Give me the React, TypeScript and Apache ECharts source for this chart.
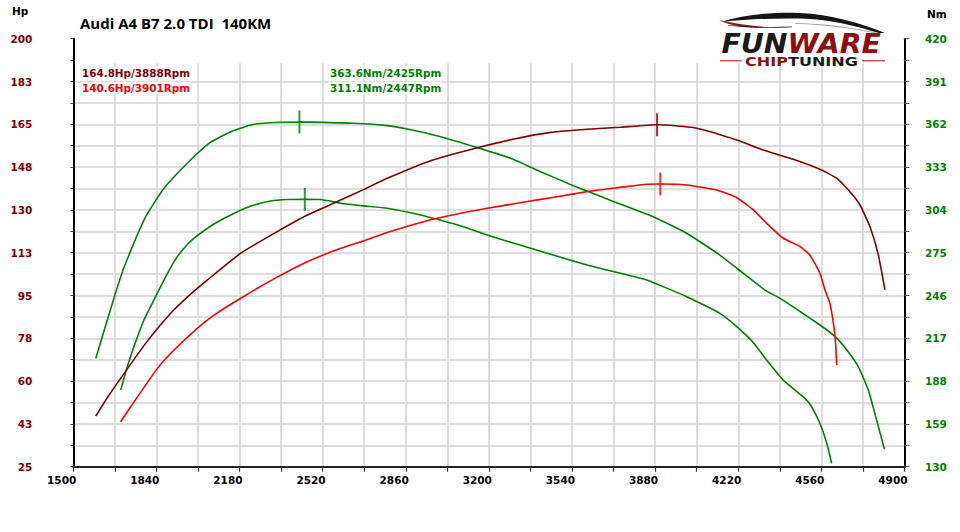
import React, { useEffect, useRef } from 'react';
import * as echarts from 'echarts';

// ---- axis origins (values are offset so ticks start at the axis minimum) ----
const X0 = 1500;
const HP0 = 25;
const NM0 = 130;

// ---- tick labels ----
const xTickLabels = ['1500', '1840', '2180', '2520', '2860', '3200', '3540', '3880', '4220', '4560', '4900'];
const hpTickLabels = ['25', '43', '60', '78', '95', '113', '130', '148', '165', '183', '200'];
const nmTickLabels = ['130', '159', '188', '217', '246', '275', '304', '333', '362', '391', '420'];

// ---- tuned power (Hp) ----
const rpmPowerTuned = [1592, 1639, 1721, 1789, 1857, 1912, 1980, 2048, 2185, 2334, 2457, 2580, 2689, 2784, 2962, 3153, 3303, 3453, 3602, 3736, 3888, 3941, 4050, 4214, 4322, 4445, 4554, 4623, 4677, 4718, 4759, 4793, 4820];
const hpPowerTuned = [45.7, 53.2, 65, 74.5, 83, 89.2, 95.6, 101.3, 112.3, 121.1, 127.9, 133.4, 138.4, 142.9, 150.1, 155.4, 159, 161.7, 163, 163.8, 164.8, 164.6, 163.4, 158.6, 154.5, 150.7, 146.6, 142.9, 137.4, 132, 123.1, 111.6, 97.3];

// ---- stock power (Hp) ----
const rpmPowerStock = [1694, 1735, 1844, 1912, 2007, 2076, 2185, 2321, 2457, 2594, 2689, 2784, 2975, 3193, 3357, 3466, 3616, 3736, 3834, 3901, 4009, 4132, 4214, 4282, 4336, 4404, 4473, 4513, 4554, 4575, 4595, 4616, 4623];
const hpPowerStock = [43.4, 49.5, 65.2, 72.7, 81.6, 87, 93.9, 101.8, 108.8, 114.3, 117.4, 120.8, 126.3, 130.7, 133.4, 135.2, 137.7, 139.2, 140.4, 140.6, 140.2, 138.1, 135, 130, 124.5, 118.4, 115, 111.6, 104.1, 97.2, 91.8, 78.2, 66.6];

// ---- tuned torque (Nm) ----
const rpmTorqueTuned = [1592, 1639, 1680, 1714, 1796, 1871, 1966, 2055, 2144, 2239, 2348, 2425, 2518, 2648, 2784, 2866, 3003, 3153, 3289, 3412, 3548, 3712, 3872, 4009, 4145, 4241, 4329, 4391, 4554, 4616, 4664, 4711, 4752, 4786, 4818];
const nmTorqueTuned = [203.4, 229.4, 251.5, 267.8, 299.4, 318.6, 335.6, 349.1, 357, 362, 363.4, 363.6, 363.3, 362.7, 361.1, 358.8, 353.6, 346.2, 339, 329.9, 320.2, 309.6, 299.4, 288.2, 273.4, 261, 249.7, 244.1, 226, 218.1, 209.1, 197.8, 182, 161.6, 141.8];

// ---- stock torque (Nm) ----
const rpmTorqueStock = [1694, 1721, 1748, 1789, 1830, 1871, 1912, 1950, 1994, 2069, 2144, 2219, 2307, 2375, 2447, 2512, 2594, 2689, 2784, 2921, 2989, 3085, 3193, 3303, 3439, 3602, 3712, 3845, 4009, 4145, 4214, 4282, 4336, 4404, 4493, 4520, 4554, 4582, 4602];
const nmTorqueStock = [182, 197.8, 211.3, 229.4, 243, 256.5, 269, 277.5, 284.8, 293.8, 300.6, 306.2, 310, 311, 311.1, 311, 308.5, 306.7, 305.1, 300.6, 297.6, 293.1, 287, 281.4, 274.6, 266.7, 262.1, 256.5, 245.2, 233.9, 224.9, 214, 202.3, 188.7, 176.3, 170.6, 159.4, 145.9, 132.3];

// ---- peaks ----
const peakHpTuned = 164.8; const peakHpTunedRpm = 3888;
const peakHpStock = 140.6; const peakHpStockRpm = 3901;
const peakNmTuned = 363.6; const peakNmTunedRpm = 2425;
const peakNmStock = 311.1; const peakNmStockRpm = 2447;

const title = 'Audi A4 B7 2.0 TDI  140KM';

const C_DARK = '#800000';
const C_RED = '#ff0000';
const C_GREEN = '#008000';
const LABEL_FONT = '"DejaVu Sans", Verdana, sans-serif';

const carBlackD = 'M 721 22 C 745 14 775 12 800 13 C 830 14 860 23 885 33 L 879 33 C 855 26 830 19 800 18.5 C 775 18 750 19 721 22 Z';
const carRedD = 'M 719 20 C 733 23 748 26 768 27 C 750 29 733 27 719 20 Z';
const carLineD = 'M 728 25 C 750 27 770 27.5 792 26.5 L 792 27.3 C 770 28.3 750 28 728 25.6 Z';
const carWinD = 'M 795 23 C 830 24 855 28 880 33.5 L 879 34 C 855 29 830 25 795 23.8 Z';

echarts.graphic.registerShape('funwareCarBlack', echarts.graphic.extendPath(carBlackD, {}));
echarts.graphic.registerShape('funwareCarRed', echarts.graphic.extendPath(carRedD, {}));
echarts.graphic.registerShape('funwareCarLine', echarts.graphic.extendPath(carLineD, {}));
echarts.graphic.registerShape('funwareCarWin', echarts.graphic.extendPath(carWinD, {}));

function pairs(xs: number[], ys: number[], y0: number) {
  return xs.map((x, i) => [x - X0, ys[i] - y0]);
}

function buildOption(): any {
  const lineBase = { type: 'line', showSymbol: false, symbol: 'none', smooth: 0.15, silent: true };
  const markerBase = { type: 'scatter', symbol: 'rect', symbolSize: [2, 23], silent: true, z: 4 };

  const textStyle = (fill: string) => ({
    fill,
    font: `bold 10.4px ${LABEL_FONT}`,
    align: 'left',
    verticalAlign: 'middle',
    backgroundColor: '#fff',
    padding: [1, 1],
  });

  return {
    animation: false,
    backgroundColor: '#ffffff',
    grid: { left: 73.3, right: 55.5, top: 38.7, bottom: 65.3, containLabel: false },
    xAxis: {
      type: 'value',
      min: 0,
      max: 3400,
      interval: 170,
      axisLine: { show: true, onZero: false, lineStyle: { color: '#222', width: 2 } },
      axisTick: { show: true, inside: false, length: 5, lineStyle: { color: '#333', width: 1.2 } },
      splitLine: { show: true, lineStyle: { color: '#d3d3d3', width: 1.5 } },
      axisLabel: {
        margin: 8,
        align: 'right',
        padding: [0, -3, 0, 0],
        color: '#000',
        fontFamily: LABEL_FONT,
        fontWeight: 'bold',
        fontSize: 10.5,
        formatter: (v: number) => {
          const k = Math.round(v / 170);
          return k % 2 === 0 ? xTickLabels[k / 2] : '';
        },
      },
    },
    yAxis: [
      {
        type: 'value',
        position: 'left',
        min: 0,
        max: 175,
        interval: 8.75,
        axisLine: { show: true, onZero: false, lineStyle: { color: '#000', width: 2 } },
        axisTick: { show: true, inside: false, length: 3, lineStyle: { color: '#555', width: 1 } },
        splitLine: { show: true, lineStyle: { color: '#d3d3d3', width: 1.5 } },
        axisLabel: {
          margin: 41,
          color: C_DARK,
          fontFamily: LABEL_FONT,
          fontWeight: 'bold',
          fontSize: 10.5,
          formatter: (v: number) => {
            const k = Math.round(v / 8.75);
            return k % 2 === 0 ? hpTickLabels[k / 2] : '';
          },
        },
      },
      {
        type: 'value',
        position: 'right',
        min: 0,
        max: 290,
        interval: 14.5,
        axisLine: { show: true, onZero: false, lineStyle: { color: '#000', width: 2 } },
        axisTick: { show: true, inside: false, length: 5, lineStyle: { color: '#555', width: 1 } },
        splitLine: { show: false },
        axisLabel: {
          margin: 20.5,
          color: C_GREEN,
          fontFamily: LABEL_FONT,
          fontWeight: 'bold',
          fontSize: 10.5,
          formatter: (v: number) => {
            const k = Math.round(v / 14.5);
            return k % 2 === 0 ? nmTickLabels[k / 2] : '';
          },
        },
      },
    ],
    series: [
      { ...lineBase, name: 'Nm tuned', yAxisIndex: 1, data: pairs(rpmTorqueTuned, nmTorqueTuned, NM0), lineStyle: { color: C_GREEN, width: 1.6 }, z: 2 },
      { ...lineBase, name: 'Nm stock', yAxisIndex: 1, data: pairs(rpmTorqueStock, nmTorqueStock, NM0), lineStyle: { color: C_GREEN, width: 1.6 }, z: 2 },
      { ...lineBase, name: 'Hp tuned', yAxisIndex: 0, data: pairs(rpmPowerTuned, hpPowerTuned, HP0), lineStyle: { color: C_DARK, width: 1.6 }, z: 3 },
      { ...lineBase, name: 'Hp stock', yAxisIndex: 0, data: pairs(rpmPowerStock, hpPowerStock, HP0), lineStyle: { color: C_RED, width: 1.6 }, z: 3 },
      { ...markerBase, yAxisIndex: 1, data: [[peakNmTunedRpm - X0, peakNmTuned - NM0]], itemStyle: { color: C_GREEN } },
      { ...markerBase, yAxisIndex: 1, data: [[peakNmStockRpm - X0, peakNmStock - NM0]], itemStyle: { color: C_GREEN } },
      { ...markerBase, yAxisIndex: 0, data: [[peakHpTunedRpm - X0, peakHpTuned - HP0]], itemStyle: { color: C_DARK } },
      { ...markerBase, yAxisIndex: 0, data: [[peakHpStockRpm - X0, peakHpStock - HP0]], itemStyle: { color: C_RED } },
    ],
    graphic: [
      // blank band above the grid lines
      { type: 'rect', z: 10, silent: true, shape: { x: 75, y: 37, width: 828.3, height: 26.3 }, style: { fill: '#ffffff' } },
      { type: 'text', z: 20, x: 12, y: 11, style: { text: 'Hp', fill: '#000', font: `bold 10.5px ${LABEL_FONT}`, align: 'left', verticalAlign: 'middle' } },
      { type: 'text', z: 20, x: 927, y: 14, style: { text: 'Nm', fill: '#000', font: `bold 10.5px ${LABEL_FONT}`, align: 'left', verticalAlign: 'middle' } },
      { type: 'text', z: 20, x: 80, y: 23, style: { text: title, fill: '#000', font: '700 15px "Open Sans", sans-serif', align: 'left', verticalAlign: 'middle' } },
      { type: 'text', z: 20, x: 81, y: 72.5, style: { text: `${peakHpTuned}Hp/${peakHpTunedRpm}Rpm`, ...textStyle(C_DARK) } },
      { type: 'text', z: 20, x: 81, y: 88, style: { text: `${peakHpStock}Hp/${peakHpStockRpm}Rpm`, ...textStyle(C_RED) } },
      { type: 'text', z: 20, x: 329, y: 72.5, style: { text: `${peakNmTuned}Nm/${peakNmTunedRpm}Rpm`, ...textStyle(C_GREEN) } },
      { type: 'text', z: 20, x: 329, y: 88, style: { text: `${peakNmStock}Nm/${peakNmStockRpm}Rpm`, ...textStyle(C_GREEN) } },
      // logo
      { type: 'funwareCarWin', z: 20, silent: true, x: 0, y: 0, style: { fill: '#9a9a9a' } },
      { type: 'funwareCarBlack', z: 21, silent: true, x: 0, y: 0, style: { fill: '#151515' } },
      { type: 'funwareCarRed', z: 21, silent: true, x: 0, y: 0, style: { fill: '#a50f0f' } },
      { type: 'funwareCarLine', z: 21, silent: true, x: 0, y: 0, style: { fill: '#222' } },
      {
        type: 'text', z: 21, x: 721.5, y: 44, scaleX: 1.09,
        style: {
          text: '{a|FUN}{b|WARE}',
          align: 'left',
          verticalAlign: 'middle',
          rich: {
            a: { fill: '#1a1a1a', font: `italic bold 26px ${LABEL_FONT}` },
            b: { fill: '#8e0d0d', font: `italic bold 26px ${LABEL_FONT}` },
          },
        },
      },
      {
        type: 'text', z: 21, x: 745, y: 61, scaleX: 1.235,
        style: {
          text: '{a|CHIP}{b|TUNING}',
          align: 'left',
          verticalAlign: 'middle',
          rich: {
            a: { fill: '#8e0d0d', font: `bold 13px ${LABEL_FONT}` },
            b: { fill: '#1a1a1a', font: `bold 13px ${LABEL_FONT}` },
          },
        },
      },
      { type: 'line', z: 21, silent: true, shape: { x1: 720, y1: 60.7, x2: 741.5, y2: 60.7 }, style: { stroke: '#c05555', lineWidth: 1.5 } },
      { type: 'line', z: 21, silent: true, shape: { x1: 862, y1: 60.7, x2: 885, y2: 60.7 }, style: { stroke: '#c05555', lineWidth: 1.5 } },
    ],
  };
}

export default function App() {
  const ref = useRef<HTMLDivElement>(null);
  useEffect(() => {
    if (!ref.current) return;
    const chart = echarts.init(ref.current, null, { renderer: 'svg' });
    chart.setOption(buildOption());
    return () => chart.dispose();
  }, []);
  return (
    <div
      ref={ref}
      style={{ position: 'fixed', left: 0, top: 0, width: 960, height: 532, background: '#ffffff' }}
    />
  );
}
